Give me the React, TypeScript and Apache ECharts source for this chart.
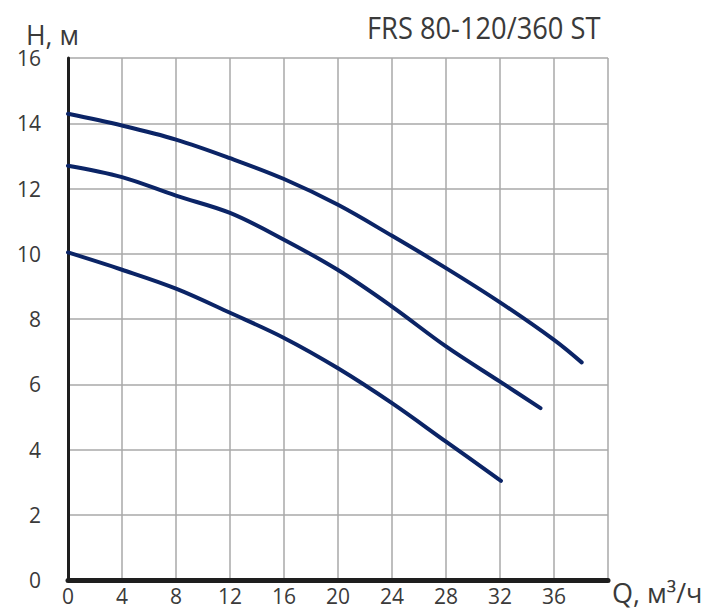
import React, { useEffect, useRef } from "react";
import * as echarts from "echarts";

const qTicks = [0, 4, 8, 12, 16, 20, 24, 28, 32, 36];
const hTicks = [0, 2, 4, 6, 8, 10, 12, 14, 16];

const qTop = [0, 4, 8, 12, 16, 20, 24, 28, 32, 36, 38.05];
const hTop = [14.29, 13.93, 13.5, 12.93, 12.29, 11.5, 10.55, 9.56, 8.51, 7.36, 6.67];

const qMid = [0, 4, 8, 12, 16, 20, 24, 28, 32, 35.0];
const hMid = [12.7, 12.35, 11.78, 11.25, 10.43, 9.5, 8.38, 7.16, 6.08, 5.27];

const qBot = [0, 4, 8, 12, 16, 20, 24, 28, 32.07];
const hBot = [10.04, 9.51, 8.93, 8.19, 7.42, 6.49, 5.42, 4.24, 3.04];

const title = "FRS 80-120/360 ST";
const yName = "H, м";
const xName = "Q, м³/ч";

const FONT = "Open Sans";
const TEXT_COLOR = "#3a3a3a";
const LINE_COLOR = "#0b2466";

function pairs(xs: number[], ys: number[]) {
  return xs.map((x, i) => [x, ys[i]]);
}

export default function App() {
  const ref = useRef<HTMLDivElement>(null);
  useEffect(() => {
    if (!ref.current) return;
    const chart = echarts.init(ref.current, undefined, { renderer: "svg" });
    const lineSeries = (xs: number[], ys: number[]) => ({
      type: "line",
      data: pairs(xs, ys),
      smooth: 0.35,
      showSymbol: false,
      symbol: "none",
      lineStyle: { color: LINE_COLOR, width: 4, cap: "round" },
      z: 5,
    });
    chart.setOption({
      animation: false,
      backgroundColor: "#ffffff",
      grid: { left: 68, top: 58, right: 102, bottom: 30, containLabel: false },
      xAxis: {
        type: "value",
        min: 0,
        max: 40,
        interval: 4,
        axisLine: { show: true, onZero: false, lineStyle: { color: "#1e1e1e", width: 5 } },
        axisTick: { show: false },
        axisLabel: {
          color: TEXT_COLOR,
          fontSize: 21,
          fontFamily: FONT,
          margin: 5,
          formatter: (v: number) => (qTicks.includes(v) ? String(v) : ""),
        },
        splitLine: { show: true, lineStyle: { color: "#a8a8a8", width: 1.5 } },
      },
      yAxis: {
        type: "value",
        min: 0,
        max: 16,
        interval: 2,
        axisLine: { show: true, onZero: false, lineStyle: { color: "#1e1e1e", width: 3 } },
        axisTick: { show: false },
        axisLabel: {
          color: TEXT_COLOR,
          fontSize: 21,
          fontFamily: FONT,
          margin: 27,
          formatter: (v: number) => (hTicks.includes(v) ? String(v) : ""),
        },
        splitLine: { show: true, lineStyle: { color: "#a8a8a8", width: 1.5 } },
      },
      graphic: [
        {
          type: "text",
          x: 367,
          y: 27,
          scaleX: 0.88,
          style: {
            text: title,
            fontSize: 31,
            fontFamily: FONT,
            fill: TEXT_COLOR,
            verticalAlign: "middle",
            align: "left",
          },
        },
        {
          type: "text",
          x: 26,
          y: 34,
          scaleX: 0.95,
          style: {
            text: yName,
            fontSize: 28,
            fontFamily: FONT,
            fill: TEXT_COLOR,
            verticalAlign: "middle",
            align: "left",
          },
        },
        {
          type: "text",
          x: 612,
          y: 592,
          style: {
            text: xName,
            fontSize: 27,
            fontFamily: FONT,
            fill: TEXT_COLOR,
            verticalAlign: "middle",
            align: "left",
          },
        },
      ],
      series: [lineSeries(qTop, hTop), lineSeries(qMid, hMid), lineSeries(qBot, hBot)],
    });
    return () => chart.dispose();
  }, []);
  return <div ref={ref} style={{ width: 710, height: 610, position: "absolute", left: 0, top: 0 }} />;
}
